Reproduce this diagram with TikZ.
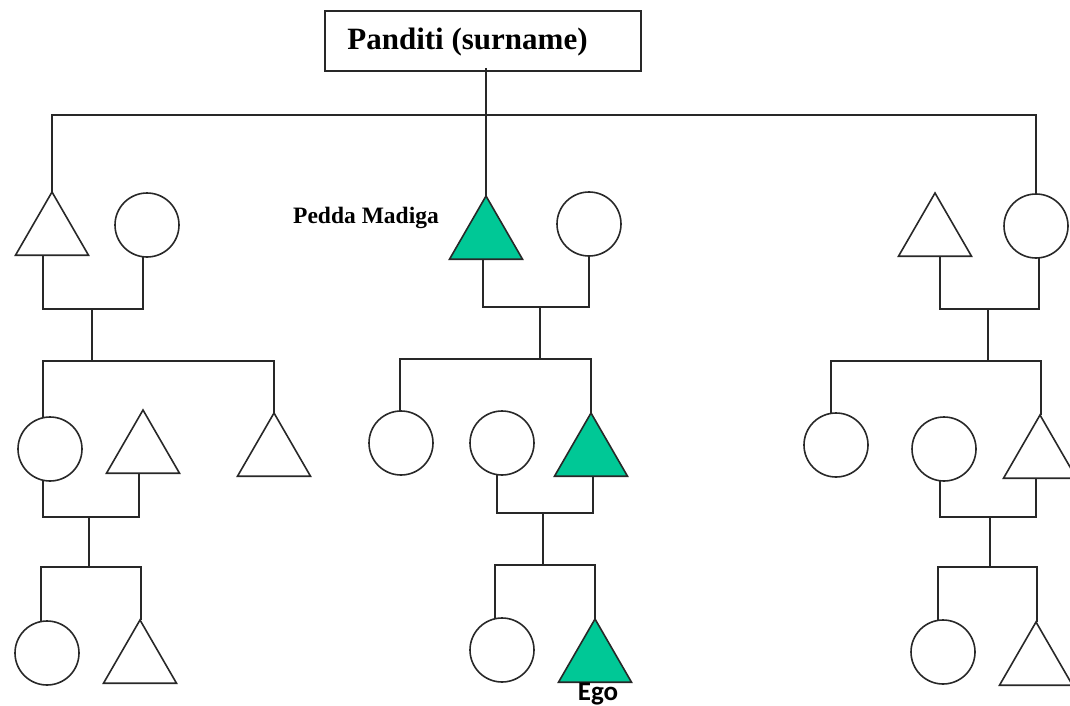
\documentclass[tikz,border=0pt]{standalone}
\usepackage{fontspec}
\usetikzlibrary{shapes.geometric}
\newfontfamily\tnrfont{Liberation Serif}
\newfontfamily\egofont{Carlito}
\definecolor{kin}{RGB}{0,200,150}
\definecolor{ink}{RGB}{40,40,40}
\tikzset{
  male/.style={regular polygon, regular polygon sides=3, minimum size=84.3pt, inner sep=0pt, outer sep=0pt, draw=ink, line width=1.6pt, anchor=north},
  malekin/.style={male, fill=kin},
  female/.style={circle, minimum size=64pt, inner sep=0pt, outer sep=0pt, draw=ink, line width=1.6pt},
  link/.style={draw=ink, line width=1.6pt},
}
\begin{document}
\begin{tikzpicture}[x=1pt,y=-1pt]
\useasboundingbox (0,0) rectangle (1070,706);
% surname box
\node[draw=ink, line width=1.6pt, minimum width=316pt, minimum height=60pt, inner sep=0pt] (box) at (483,41) {};
\node[anchor=base, inner sep=0pt, font=\tnrfont\bfseries\fontsize{31}{37}\selectfont] (boxl) at (467.5,50) {Panditi (surname)};
% generation 1
\node[male] (t1) at (52,192) {};
\node[female] (c1) at (147,225) {};
\node[malekin] (pm) at (486,196) {};
\node[female] (c2) at (589,224) {};
\node[male] (t3) at (935,193) {};
\node[female] (c3) at (1036,226) {};
\node[anchor=base west, inner sep=0pt, font=\tnrfont\bfseries\fontsize{23.5}{28}\selectfont] (pml) at (293,223) {Pedda Madiga};
% generation 2 left
\node[female] (c4) at (50,449) {};
\node[male] (t4) at (143,410) {};
\node[male] (t5) at (274,413) {};
% generation 2 middle
\node[female] (c6) at (401,443) {};
\node[female] (c7) at (502,443) {};
\node[malekin] (g2) at (591,413) {};
% generation 2 right
\node[female] (c9) at (836,445) {};
\node[female] (c10) at (944,449) {};
\node[male] (t7) at (1040,415) {};
% generation 3
\node[female] (c5) at (47,653) {};
\node[male] (t6) at (140,620) {};
\node[female] (c8) at (502,650) {};
\node[malekin] (ego) at (595,619) {};
\node[female] (c11) at (943,652) {};
\node[male] (t8) at (1036,622) {};
\node[anchor=base, inner sep=0pt, font=\egofont\bfseries\fontsize{27}{32}\selectfont] (egol) at (598,700) {Ego};
% junction coordinates
\coordinate (bar) at (486,115);
\coordinate (m1) at (92,309);
\coordinate (s1) at (92,361);
\coordinate (m2) at (540,307);
\coordinate (s2) at (540,359);
\coordinate (m3) at (988,309);
\coordinate (s3) at (988,361);
\coordinate (m4) at (89,517);
\coordinate (s4) at (89,567);
\coordinate (m5) at (543,513);
\coordinate (s5) at (543,565);
\coordinate (m6) at (990,517);
\coordinate (s6) at (990,567);
% connectors: surname line
\path[link] ([yshift=4pt]box.south -| bar) -- (bar) -- (pm.north);
\path[link] (t1.north) |- (bar) -| (c3.north);
% gen 1 marriages
\path[link] ([xshift=-9pt]t1.south) |- (m1) -| ([xshift=-4pt]c1.south);
\path[link] (m1) -- (s1);
\path[link] ([xshift=-3pt]pm.south) |- (m2) -| (c2.south);
\path[link] (m2) -- (s2);
\path[link] ([xshift=5pt]t3.south) |- (m3) -| ([xshift=3pt]c3.south);
\path[link] (m3) -- (s3);
% gen 2 sibling bars
\path[link] ([xshift=-7pt]c4.north) |- (s1) -| (t5.north);
\path[link] ([xshift=-1pt]c6.north) |- (s2) -| (g2.north);
\path[link] ([xshift=-5pt]c9.north) |- (s3) -| ([xshift=1pt]t7.north);
% gen 2 marriages
\path[link] ([xshift=-7pt]c4.south) |- (m4) -| ([xshift=-4pt]t4.south);
\path[link] (m4) -- (s4);
\path[link] ([xshift=-5pt]c7.south) |- (m5) -| ([xshift=2pt]g2.south);
\path[link] (m5) -- (s5);
\path[link] ([xshift=-4pt]c10.south) |- (m6) -| ([xshift=-4pt]t7.south);
\path[link] (m6) -- (s6);
% gen 3 sibling bars
\path[link] ([xshift=-6pt]c5.north) |- (s4) -| ([xshift=1pt]t6.north);
\path[link] ([xshift=-7pt]c8.north) |- (s5) -| (ego.north);
\path[link] ([xshift=-5pt]c11.north) |- (s6) -| ([xshift=1pt]t8.north);
\end{tikzpicture}
\end{document}
